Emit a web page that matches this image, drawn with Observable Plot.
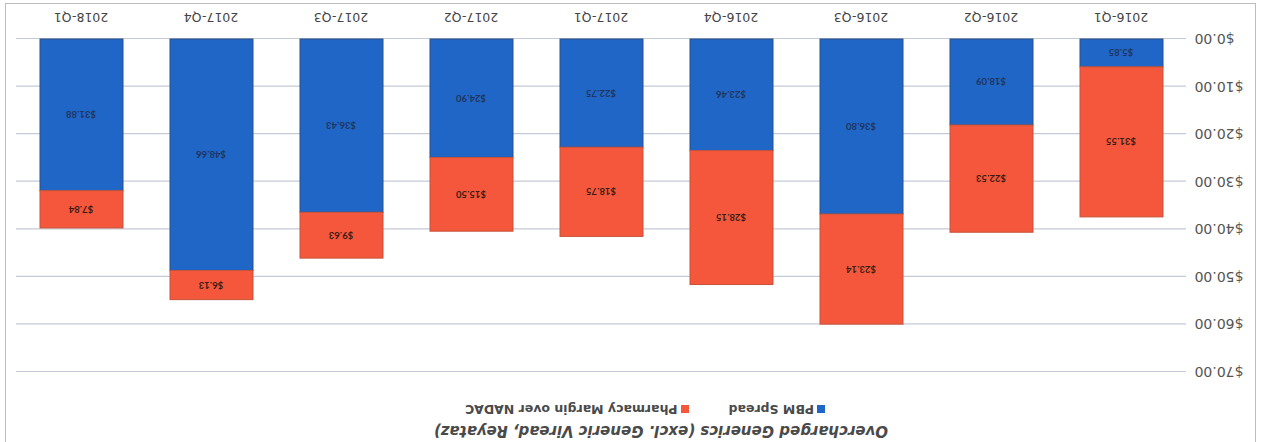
<!DOCTYPE html>
<html><head><meta charset="utf-8">
<script src="https://cdn.jsdelivr.net/npm/d3@7"></script>
<script src="https://cdn.jsdelivr.net/npm/@observablehq/plot@0.6"></script>
<style>
html,body{margin:0;padding:0;background:#fff;overflow:hidden;}
#page{position:relative;width:1261px;height:442px;transform:rotate(180deg);transform-origin:50% 50%;font-family:"DejaVu Sans",sans-serif;overflow:hidden;}
#frame{position:absolute;left:5px;top:-6px;width:1251px;height:445px;border:1.5px solid #bdbdbd;box-sizing:border-box;}
#title{position:absolute;top:2px;left:0;width:1200px;text-align:center;font-style:italic;font-weight:bold;font-size:15px;color:#4a4a4a;}
#legend{position:absolute;top:25px;left:0;width:1232px;display:flex;justify-content:center;gap:40px;font-size:12.5px;font-weight:bold;color:#4a4a4a;}
#legend span.sw{display:inline-block;width:8px;height:8px;margin-right:3px;vertical-align:0px;}
#chart{position:absolute;left:0;top:50px;}
</style>
</head><body>
<div id="page">
  <div id="frame"></div>
  <div id="title"></div>
  <div id="legend"></div>
  <div id="chart"></div>
</div>
<script>
const title = "Overcharged Generics (excl. Generic Viread, Reyataz)";
const quarters = ["2016-Q1","2016-Q2","2016-Q3","2016-Q4","2017-Q1","2017-Q2","2017-Q3","2017-Q4","2018-Q1"];
const pbmSpread = [5.85, 18.09, 36.80, 23.46, 22.75, 24.90, 36.43, 48.66, 31.88];
const pharmacyMargin = [31.55, 22.53, 23.14, 28.15, 18.75, 15.50, 9.63, 6.13, 7.84];
const seriesNames = ["PBM Spread", "Pharmacy Margin over NADAC"];
const seriesColors = ["#1f66c6", "#f4573b"];
const yTicks = [0, 10, 20, 30, 40, 50, 60, 70];

const data = [];
quarters.forEach((q, i) => {
  data.push({quarter: q, series: seriesNames[0], value: pbmSpread[i]});
  data.push({quarter: q, series: seriesNames[1], value: pharmacyMargin[i]});
});
const stackOrder = [seriesNames[0], seriesNames[1]];
const fmt = v => "$" + v.toFixed(2);

document.getElementById("title").textContent = title;
const legend = document.getElementById("legend");
seriesNames.forEach((s, i) => {
  const item = document.createElement("div");
  const sw = document.createElement("span");
  sw.className = "sw";
  sw.style.background = seriesColors[i];
  item.appendChild(sw);
  item.appendChild(document.createTextNode(s));
  legend.appendChild(item);
});

const chart = Plot.plot({
  width: 1261,
  height: 392,
  marginLeft: 75,
  marginRight: 16,
  marginTop: 20,
  marginBottom: 39,
  style: {fontFamily: "'DejaVu Sans', sans-serif", background: "transparent"},
  x: {domain: quarters, paddingInner: 0.36, paddingOuter: 0.18, label: null},
  y: {domain: [0, 70], label: null},
  color: {domain: seriesNames, range: seriesColors},
  marks: [
    Plot.gridY(yTicks, {stroke: "#c4cad8", strokeOpacity: 1, strokeWidth: 1.2}),
    Plot.barY(data, {x: "quarter", y: "value", fill: "series", order: stackOrder,
      stroke: d => d.series === seriesNames[0] ? "#2b4f86" : "#c6533c", strokeWidth: 1}),
    Plot.text(data, Plot.stackY({x: "quarter", y: "value", order: stackOrder,
      text: d => fmt(d.value), fontSize: 9.5, fontWeight: "bold", fontFamily: "Lato, sans-serif",
      fill: d => d.series === seriesNames[0] ? "#20355f" : "#3a1d16"})),
    Plot.axisY(yTicks, {tickSize: 0, tickPadding: 9, tickFormat: fmt, fontSize: 14, fill: "#555", label: null}),
    Plot.axisX({tickSize: 0, tickPadding: 16.5, fontSize: 12.5, fill: "#444", label: null})
  ]
});
document.getElementById("chart").appendChild(chart);
</script>
</body></html>
